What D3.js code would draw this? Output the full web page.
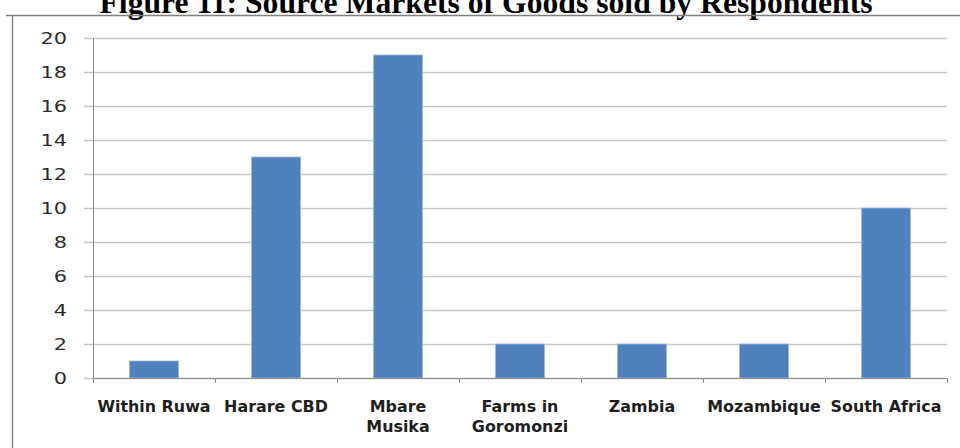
<!DOCTYPE html>
<html lang="en">
<head>
    <meta charset="UTF-8">
    <title>Figure 11</title>
    <script src="https://d3js.org/d3.v7.min.js"></script>
    <style>
        body { margin: 0; background: #fff; }
        svg { display: block; }
    </style>
</head>
<body>
    <div id="chart"></div>

    <script>
        // Data
        var categories = ["Within Ruwa", "Harare CBD", "Mbare Musika", "Farms in Goromonzi", "Zambia", "Mozambique", "South Africa"];
        var labelLines = [["Within Ruwa"], ["Harare CBD"], ["Mbare", "Musika"], ["Farms in", "Goromonzi"], ["Zambia"], ["Mozambique"], ["South Africa"]];
        var counts = [1, 13, 19, 2, 2, 2, 10];
        var yTicks = [0, 2, 4, 6, 8, 10, 12, 14, 16, 18, 20];

        var width = 960, height = 448;
        var margin = { top: 38, right: 13, bottom: 70, left: 93 };
        var fontSans = "'DejaVu Sans', Verdana, sans-serif";

        // the original text looks horizontally stretched, widen glyphs a bit
        function stretch(sel, factor) {
            sel.each(function() {
                var w = this.getComputedTextLength();
                d3.select(this)
                    .attr("textLength", w * factor)
                    .attr("lengthAdjust", "spacingAndGlyphs");
            });
        }

        var svg = d3.select("#chart").append("svg")
            .attr("width", width)
            .attr("height", height);

        // Title (partly cut off at the top of the picture)
        svg.append("text")
            .attr("x", 486)
            .attr("y", 13)
            .attr("text-anchor", "middle")
            .attr("textLength", 773)
            .attr("lengthAdjust", "spacingAndGlyphs")
            .style("font-family", "'Liberation Serif', 'Times New Roman', serif")
            .style("font-weight", "bold")
            .style("font-size", "31px")
            .text("Figure 11: Source Markets of Goods sold by Respondents");

        // Chart frame
        svg.append("path")
            .attr("d", "M6,15.5H960M12.5,15.5V448")
            .attr("fill", "none")
            .attr("stroke", "#7f7f7f")
            .attr("stroke-width", 1.4);

        var x0 = margin.left, x1 = width - margin.right;

        var x = d3.scaleBand()
            .domain(categories)
            .range([x0, x1])
            .paddingInner(0.6)
            .paddingOuter(0.3);

        var catWidth = (x1 - x0) / categories.length;

        var y = d3.scaleLinear()
            .domain([0, 20])
            .range([height - margin.bottom, margin.top]);

        // Gridlines with outside ticks
        var grid = svg.append("g")
            .attr("transform", "translate(" + x0 + ",0)")
            .call(d3.axisLeft(y).tickValues(yTicks).tickSize(-(x1 - x0)).tickSizeOuter(0).tickPadding(0));
        grid.select(".domain").remove();
        grid.selectAll(".tick line")
            .attr("x1", -9)
            .attr("stroke", "#c6c6c6")
            .attr("stroke-width", 1.6);
        var yLabels = grid.selectAll(".tick text")
            .attr("x", -26)
            .attr("dy", "0.36em")
            .style("font-family", fontSans)
            .style("font-size", "16px")
            .style("fill", "#2a2a2a");
        stretch(yLabels, 1.3);

        // Bars
        svg.selectAll(".bar")
            .data(counts)
            .enter().append("rect")
            .attr("class", "bar")
            .attr("x", function(d, i) { return x(categories[i]); })
            .attr("width", x.bandwidth())
            .attr("y", function(d) { return y(d); })
            .attr("height", function(d) { return y(0) - y(d); })
            .attr("fill", "#4f81bd")
            .attr("stroke", "#9db5d8")
            .attr("stroke-width", 0.8);

        // Y axis line
        svg.append("line")
            .attr("x1", x0 + 0.5).attr("x2", x0 + 0.5)
            .attr("y1", y(20)).attr("y2", y(0))
            .attr("stroke", "#8a8a8a");

        // X axis line with tick marks at category boundaries
        svg.append("line")
            .attr("x1", x0).attr("x2", x1)
            .attr("y1", y(0) + 0.5).attr("y2", y(0) + 0.5)
            .attr("stroke", "#8a8a8a");
        svg.selectAll(".xtick")
            .data(d3.range(categories.length + 1))
            .enter().append("line")
            .attr("class", "xtick")
            .attr("x1", function(i) { return x0 + i * catWidth + 0.5; })
            .attr("x2", function(i) { return x0 + i * catWidth + 0.5; })
            .attr("y1", y(0))
            .attr("y2", y(0) + 5)
            .attr("stroke", "#8a8a8a");

        // Category labels
        var labels = svg.selectAll(".xlabel")
            .data(categories)
            .enter().append("text")
            .attr("class", "xlabel")
            .attr("y", 412)
            .attr("text-anchor", "middle")
            .style("font-family", fontSans)
            .style("font-size", "15px")
            .style("font-weight", "bold")
            .style("fill", "#1e1e1e");
        labels.each(function(d, i) {
            var t = d3.select(this);
            labelLines[i].forEach(function(line, j) {
                t.append("tspan")
                    .attr("x", x(d) + x.bandwidth() / 2)
                    .attr("dy", j === 0 ? 0 : 20)
                    .text(line);
            });
        });
        stretch(labels.selectAll("tspan"), 1.06);
    </script>
</body>
</html>
